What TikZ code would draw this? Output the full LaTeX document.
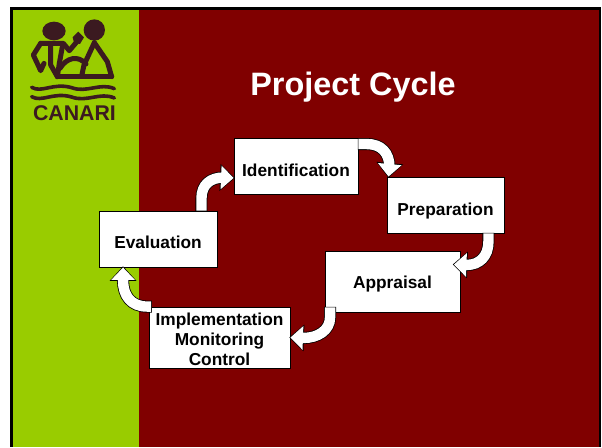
\documentclass[tikz,border=0pt]{standalone}
\usepackage{fontspec}
\setmainfont{Liberation Sans}
\usetikzlibrary{arrows.meta}
\definecolor{canarigreen}{HTML}{99CC00}
\definecolor{canarired}{HTML}{800000}
\definecolor{canarilogo}{HTML}{3B1A20}
\tikzset{
    mybox/.style = {rectangle, draw=black, line width=0.9pt, fill=white, align=center, inner sep=0pt, font=\bfseries\fontsize{17.3}{20}\selectfont, text=black},
    myarrow/.style = {draw=white, line width=10.4pt, -{Triangle[length=12.5pt,width=23pt]},
        preaction={draw=black, line width=12pt, -{Triangle[length=14.7pt,width=26pt]}, shorten >=-1.2pt, shorten <=-.7pt}},
    logoline/.style = {draw=canarilogo, line width=5pt, line cap=round, line join=round},
    logowave/.style = {draw=canarilogo, line width=3.6pt, line cap=round}
}
\newcommand{\lowertext}[2]{\raisebox{-#1pt}[\height][\depth]{#2}}

\begin{document}
\begin{tikzpicture}[x=1pt,y=-1pt]
\path[use as bounding box] (0,0) rectangle (602,447);
% slide
\fill[black] (10,7) rectangle (601,447);
\fill[canarired] (139,9.5) rectangle (598.5,447);
\fill[canarigreen] (12.5,9.5) rectangle (139,447);
% logo
\begin{scope}[scale=1/3]
\fill[canarilogo] (162,93) ellipse [x radius=35, y radius=28];
\fill[canarilogo] (283,90) ellipse [x radius=32, y radius=32];
\fill[canarilogo] (218,112) -- (235,95) -- (252,112) -- (240,132) -- (222,128) -- cycle;
\draw[logoline] (122,130) -- (190,130) -- (208,152) -- (235,120);
\draw[logoline] (122,130) -- (100,165) -- (122,212) -- (132,190);
\draw[logoline] (152,135) -- (152,195) -- (172,230);
\draw[logoline] (188,135) -- (178,190) -- (172,230);
\draw[logoline] (180,205) .. controls (200,172) and (235,165) .. (258,192);
\draw[logoline] (283,128) -- (252,195) -- (245,228);
\draw[logoline] (283,128) -- (322,185) -- (335,230);
\draw[logoline] (172,230) -- (335,230);
\draw[logowave] (95,262) .. controls (125,280) and (160,247) .. (215,263) .. controls (260,280) and (300,247) .. (343,266);
\draw[logowave] (95,290) .. controls (125,308) and (160,275) .. (215,291) .. controls (260,308) and (300,275) .. (343,294);
\end{scope}
\node[text=canarilogo, inner sep=0pt, font=\bfseries\fontsize{21.3}{22}\selectfont] at (74.5,113) (logotext) {CANARI};
% title
\node[text=white, inner sep=0pt, font=\bfseries\fontsize{32.4}{36}\selectfont] at (353,87) (title) {Project Cycle};
% boxes
\node[mybox, minimum width=124pt, minimum height=56pt] at (296,166) (identification) {\lowertext{4}{Identification}};
\node[mybox, minimum width=117pt, minimum height=56pt] at (445.5,205) (preparation) {\lowertext{6}{Preparation}};
\node[mybox, minimum width=135pt, minimum height=61pt] at (392.5,281.5) (appraisal) {\lowertext{3}{Appraisal}};
\node[mybox, minimum width=118pt, minimum height=56pt] at (158,239) (evaluation) {\lowertext{3}{Evaluation}};
\node[mybox, minimum width=141pt, minimum height=61pt] at (219.5,337.5) (implementation) {\rule{0pt}{17pt}Implementation\\Monitoring\\Control};
%
\draw[myarrow] ([xshift=-16pt]evaluation.north east) -- ++(0,-12) .. controls +(0,-14) and +(-13,0) .. ++(22,-21) -- ([yshift=-12pt]identification.west);
\draw[myarrow] ([yshift=22pt]identification.east) -- ++(8,0) .. controls +(15,0) and +(0,-14) .. ++(23,23) -- ([xshift=2pt]preparation.north west);
\draw[myarrow] ([xshift=-16pt]preparation.south east) -- ++(0,8) .. controls +(0,15) and +(13,0) .. ++(-22,23.5) -- ([xshift=-6.5pt,yshift=17pt]appraisal.east);
\draw[myarrow] ([xshift=5.5pt,yshift=5pt]appraisal.south west) -- ++(0,10) .. controls +(0,13) and +(14,0) .. ++(-26.5,20.5) -- (implementation.east);
\draw[myarrow] ([xshift=2.5pt]implementation.north west) -- ++(-4,0) .. controls +(-16,0) and +(0,15) .. ++(-24,-26) -- ([xshift=24.5pt]evaluation.south west);
\end{tikzpicture}
\end{document}
